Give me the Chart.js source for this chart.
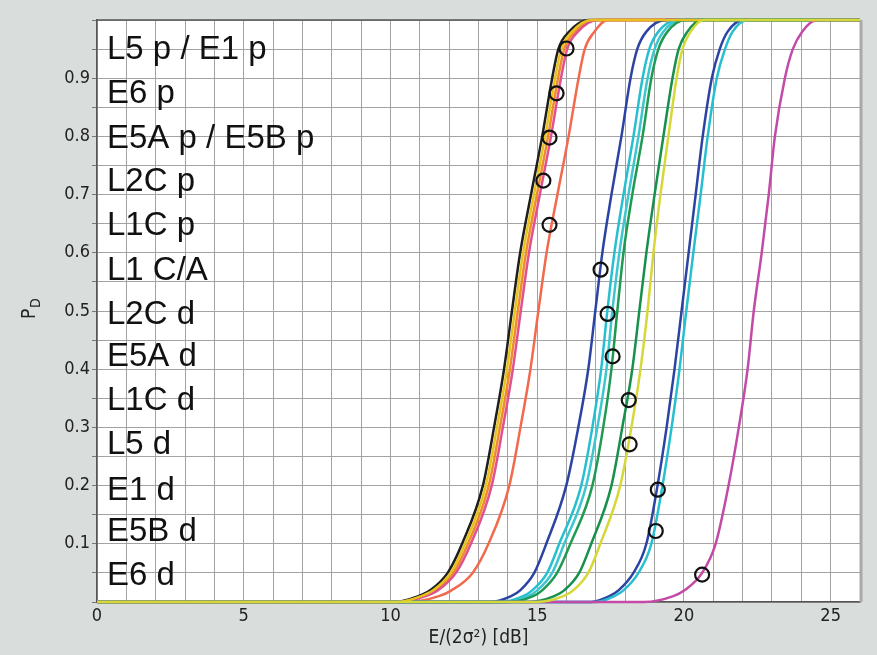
<!DOCTYPE html>
<html>
<head>
<meta charset="utf-8">
<script src="https://cdn.jsdelivr.net/npm/chart.js@4.4.1/dist/chart.umd.min.js"></script>
<style>
  html, body { margin: 0; padding: 0; background: #d9dddb; }
</style>
</head>
<body>
<canvas id="chart" width="877" height="655"></canvas>
<script>
(function () {
  'use strict';

  // detection probability levels shared by every curve (first/last pair = flat ends)
  var pLevels = [0, 0, 0.01, 0.02, 0.05, 0.1, 0.2, 0.3, 0.4, 0.5, 0.6, 0.7, 0.8, 0.9, 0.95, 0.98, 1, 1];

  // E/(2 sigma^2) in dB at each of those levels
  var blackDb   = [0, 10.15, 10.95, 11.35, 11.95, 12.44, 13.15, 13.53, 13.87, 14.14, 14.42, 14.79, 15.17, 15.51, 15.72, 16.09, 16.77, 26];
  var goldDb    = [0, 10.22, 11.05, 11.45, 12.05, 12.54, 13.25, 13.63, 13.97, 14.24, 14.52, 14.89, 15.27, 15.61, 15.82, 16.19, 16.85, 26];
  var orangeDb  = [0, 10.28, 11.12, 11.53, 12.14, 12.64, 13.35, 13.73, 14.07, 14.34, 14.62, 14.99, 15.37, 15.71, 15.92, 16.29, 16.95, 26];
  var pinkDb    = [0, 10.33, 11.20, 11.62, 12.23, 12.74, 13.45, 13.83, 14.17, 14.44, 14.72, 15.09, 15.47, 15.81, 16.02, 16.39, 17.05, 26];
  var salmonDb  = [0, 10.60, 11.65, 12.08, 12.80, 13.34, 14.05, 14.43, 14.77, 15.04, 15.32, 15.69, 16.07, 16.41, 16.62, 16.95, 17.40, 26];
  var blueDb    = [0, 13.43, 14.11, 14.42, 14.90, 15.31, 15.99, 16.40, 16.74, 16.98, 17.22, 17.53, 17.87, 18.18, 18.41, 18.72, 19.40, 26];
  var cyanDb    = [0, 13.77, 14.52, 14.83, 15.34, 15.75, 16.50, 16.88, 17.18, 17.39, 17.63, 17.94, 18.28, 18.59, 18.82, 19.13, 19.78, 26];
  var cyan2Db   = [0, 13.94, 14.69, 15.00, 15.51, 15.92, 16.67, 17.05, 17.36, 17.56, 17.80, 18.11, 18.45, 18.76, 19.00, 19.30, 19.92, 26];
  var greenDb   = [0, 14.04, 14.86, 15.17, 15.68, 16.13, 16.88, 17.25, 17.53, 17.73, 17.94, 18.24, 18.59, 18.89, 19.13, 19.44, 20.05, 26];
  var green2Db  = [0, 14.72, 15.58, 15.92, 16.43, 16.84, 17.53, 17.90, 18.24, 18.48, 18.72, 19.00, 19.30, 19.61, 19.82, 20.12, 20.60, 26];
  var yellowDb  = [0, 15.00, 15.89, 16.23, 16.74, 17.15, 17.83, 18.21, 18.52, 18.76, 18.96, 19.20, 19.47, 19.75, 19.95, 20.23, 20.67, 26];
  var blue3Db   = [0, 16.84, 17.46, 17.77, 18.28, 18.72, 19.10, 19.41, 19.68, 19.92, 20.16, 20.40, 20.64, 20.95, 21.22, 21.49, 22.04, 26];
  var cyan3Db   = [0, 17.01, 17.63, 17.94, 18.45, 18.89, 19.27, 19.58, 19.85, 20.08, 20.32, 20.57, 20.81, 21.12, 21.40, 21.66, 22.17, 26];
  var magentaDb = [0, 18.65, 19.64, 20.02, 20.62, 21.08, 21.52, 21.87, 22.17, 22.38, 22.65, 22.89, 23.10, 23.44, 23.71, 24.03, 24.53, 26];

  // signal labels and their marker circles
  var signalLabels = ['L5 p / E1 p', 'E6 p', 'E5A p / E5B p', 'L2C p', 'L1C p', 'L1 C/A',
    'L2C d', 'E5A d', 'L1C d', 'L5 d', 'E1 d', 'E5B d', 'E6 d'];
  var markerDb = [16.00, 15.66, 15.42, 15.21, 15.42, 17.16, 17.40, 17.57, 18.12, 18.15, 19.11, 19.04, 20.62];
  var markerP  = [0.951, 0.874, 0.798, 0.724, 0.648, 0.571, 0.495, 0.422, 0.347, 0.271, 0.193, 0.122, 0.047];

  var yTickLabels = [0.1, 0.2, 0.3, 0.4, 0.5, 0.6, 0.7, 0.8, 0.9];
  var xTickLabels = [0, 5, 10, 15, 20, 25];

  function toPoints(xs) {
    return xs.map(function (x, i) { return { x: x, y: pLevels[i] }; });
  }

  function curve(xs, color) {
    return {
      data: toPoints(xs),
      showLine: true,
      borderColor: color,
      borderWidth: 2.5,
      pointRadius: 0,
      cubicInterpolationMode: 'monotone',
      fill: false,
      clip: 3
    };
  }

  // Chart.js paints the first dataset on top, so markers and yellows come first
  var datasets = [
    {
      data: markerDb.map(function (x, i) { return { x: x, y: markerP[i] }; }),
      showLine: false,
      pointStyle: 'circle',
      pointRadius: 7,
      pointBorderWidth: 2.2,
      pointBorderColor: '#111',
      pointBackgroundColor: 'rgba(0,0,0,0)'
    },
    curve(yellowDb, '#d6d83a'),
    curve(goldDb, '#e8c21c'),
    curve(magentaDb, '#c34aa6'),
    curve(cyan3Db, '#27bfd0'),
    curve(blue3Db, '#2b43a3'),
    curve(green2Db, '#16904a'),
    curve(greenDb, '#1f9a52'),
    curve(cyan2Db, '#3cc6cf'),
    curve(cyanDb, '#27bfd0'),
    curve(blueDb, '#2b43a3'),
    curve(salmonDb, '#f26a4e'),
    curve(pinkDb, '#e0528e'),
    curve(orangeDb, '#f08a2a'),
    curve(blackDb, '#1e1e1e')
  ];

  var backdrop = {
    id: 'backdrop',
    beforeDraw: function (chart) {
      var c = chart.ctx, a = chart.chartArea;
      c.save();
      c.fillStyle = '#d9dddb';
      c.fillRect(0, 0, chart.width, chart.height);
      c.fillStyle = '#ffffff';
      c.fillRect(a.left, a.top, a.right - a.left, a.bottom - a.top);
      c.restore();
    },
    beforeDatasetsDraw: function (chart) {
      var c = chart.ctx, a = chart.chartArea;
      c.save();
      c.strokeStyle = '#555';
      c.lineWidth = 1.5;
      c.beginPath();
      c.moveTo(a.left, a.top);
      c.lineTo(a.right, a.top);
      c.stroke();
      c.strokeStyle = '#a9a9a9';
      c.lineWidth = 3;
      c.beginPath();
      c.moveTo(a.right + 1, a.top);
      c.lineTo(a.right + 1, a.bottom);
      c.stroke();
      c.restore();
    }
  };

  var annotations = {
    id: 'annotations',
    afterDatasetsDraw: function (chart) {
      var c = chart.ctx, a = chart.chartArea, ys = chart.scales.y;
      c.save();
      c.fillStyle = '#111';
      c.font = '33px "Liberation Sans", Arial, sans-serif';
      c.textBaseline = 'middle';
      c.textAlign = 'left';
      signalLabels.forEach(function (t, i) {
        c.fillText(t, a.left + 10, ys.getPixelForValue(markerP[i]) + 1);
      });
      c.restore();

      // y axis title P_D
      c.save();
      c.translate(35, (a.top + a.bottom) / 2);
      c.rotate(-Math.PI / 2);
      c.fillStyle = '#222';
      c.textBaseline = 'alphabetic';
      c.font = '19px "DejaVu Sans Condensed", "DejaVu Sans", sans-serif';
      c.fillText('P', -8, 0);
      c.font = '14px "DejaVu Sans Condensed", "DejaVu Sans", sans-serif';
      c.fillText('D', 3, 5);
      c.restore();
    }
  };

  var ctx = document.getElementById('chart').getContext('2d');

  new Chart(ctx, {
    type: 'scatter',
    data: { datasets: datasets },
    options: {
      responsive: false,
      animation: false,
      layout: { padding: { top: 20, right: 17, left: 0, bottom: 0 } },
      plugins: { legend: { display: false }, tooltip: { enabled: false } },
      scales: {
        x: {
          type: 'linear',
          min: 0,
          max: 26,
          afterFit: function (s) { s.height = 53; },
          border: { color: '#555', width: 1.5 },
          grid: { color: '#a3a3a3', lineWidth: 1, drawTicks: false },
          ticks: {
            stepSize: 1,
            autoSkip: false,
            maxRotation: 0,
            padding: 4,
            color: '#222',
            font: { family: '"DejaVu Sans Condensed", "DejaVu Sans", sans-serif', size: 18 },
            callback: function (v) { return xTickLabels.indexOf(v) >= 0 ? String(v) : ''; }
          },
          title: {
            display: true,
            text: 'E/(2σ²) [dB]',
            color: '#222',
            padding: { top: 0, bottom: 6 },
            font: { family: '"DejaVu Sans Condensed", "DejaVu Sans", sans-serif', size: 19 }
          }
        },
        y: {
          type: 'linear',
          min: 0,
          max: 1,
          afterFit: function (s) { s.width = 97; },
          border: { color: '#555', width: 1.5 },
          grid: { color: '#a3a3a3', lineWidth: 1, tickLength: 5, tickColor: '#777' },
          ticks: {
            stepSize: 0.05,
            autoSkip: false,
            padding: 2,
            color: '#222',
            font: { family: '"DejaVu Sans Condensed", "DejaVu Sans", sans-serif', size: 18 },
            callback: function (v) {
              var r = Math.round(v * 100) / 100;
              return yTickLabels.indexOf(r) >= 0 ? r.toFixed(1) : '';
            }
          }
        }
      }
    },
    plugins: [backdrop, annotations]
  });
}());
</script>
</body>
</html>
